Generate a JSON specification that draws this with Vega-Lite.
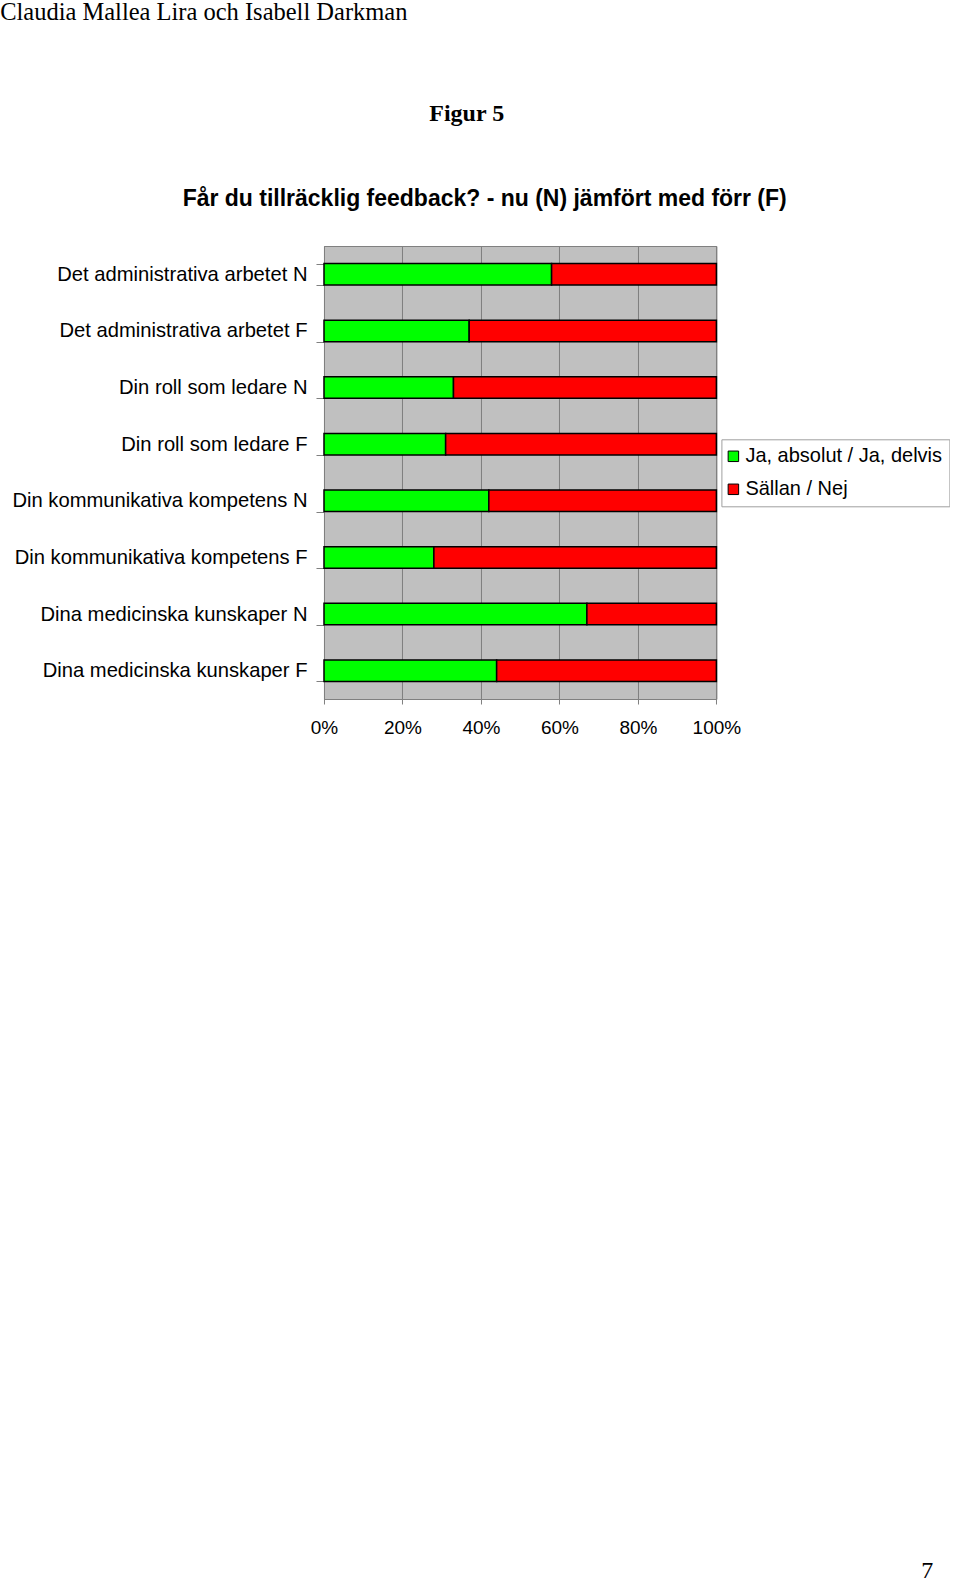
{
  "$schema": "https://vega.github.io/schema/vega-lite/v6.json",
  "background": "white",
  "padding": {"left": 0, "top": 0, "right": 0, "bottom": 0},
  "title": {
    "text": "Claudia Mallea Lira och Isabell Darkman",
    "anchor": "start",
    "frame": "bounds",
    "font": "Liberation Serif",
    "fontSize": 24.5,
    "fontWeight": "normal",
    "color": "black",
    "baseline": "top",
    "offset": 76
  },
  "spacing": 0,
  "config": {
    "font": "Liberation Sans",
    "axis": {"labelColor": "black"},
    "legend": {"labelColor": "black"}
  },
  "vconcat": [
    {
      "title": {
        "text": "Figur 5",
        "anchor": "middle",
        "frame": "bounds",
        "dx": 0,
        "font": "Liberation Serif",
        "fontSize": 24,
        "fontWeight": "bold",
        "color": "black",
        "baseline": "top",
        "offset": 62
      },
      "vconcat": [
        {
          "title": {
            "text": "Får du tillräcklig feedback? - nu (N) jämfört med förr (F)",
            "anchor": "middle",
            "frame": "bounds",
            "dx": 18,
            "font": "Liberation Sans",
            "fontSize": 23,
            "fontWeight": "bold",
            "color": "black",
            "baseline": "top",
            "offset": 25
          },
          "width": 392.4,
          "height": 453,
          "view": {"fill": "#C0C0C0", "stroke": "#808080", "strokeWidth": 1},
          "data": {
            "values": [
              {"kategori": "Det administrativa arbetet N", "svar": "Ja, absolut / Ja, delvis", "andel": 58},
              {"kategori": "Det administrativa arbetet N", "svar": "Sällan / Nej", "andel": 42},
              {"kategori": "Det administrativa arbetet F", "svar": "Ja, absolut / Ja, delvis", "andel": 37},
              {"kategori": "Det administrativa arbetet F", "svar": "Sällan / Nej", "andel": 63},
              {"kategori": "Din roll som ledare N", "svar": "Ja, absolut / Ja, delvis", "andel": 33},
              {"kategori": "Din roll som ledare N", "svar": "Sällan / Nej", "andel": 67},
              {"kategori": "Din roll som ledare F", "svar": "Ja, absolut / Ja, delvis", "andel": 31},
              {"kategori": "Din roll som ledare F", "svar": "Sällan / Nej", "andel": 69},
              {"kategori": "Din kommunikativa kompetens N", "svar": "Ja, absolut / Ja, delvis", "andel": 42},
              {"kategori": "Din kommunikativa kompetens N", "svar": "Sällan / Nej", "andel": 58},
              {"kategori": "Din kommunikativa kompetens F", "svar": "Ja, absolut / Ja, delvis", "andel": 28},
              {"kategori": "Din kommunikativa kompetens F", "svar": "Sällan / Nej", "andel": 72},
              {"kategori": "Dina medicinska kunskaper N", "svar": "Ja, absolut / Ja, delvis", "andel": 67},
              {"kategori": "Dina medicinska kunskaper N", "svar": "Sällan / Nej", "andel": 33},
              {"kategori": "Dina medicinska kunskaper F", "svar": "Ja, absolut / Ja, delvis", "andel": 44},
              {"kategori": "Dina medicinska kunskaper F", "svar": "Sällan / Nej", "andel": 56}
            ]
          },
          "mark": {"type": "bar", "stroke": "black", "strokeWidth": 1.5},
          "encoding": {
            "y": {
              "field": "kategori",
              "type": "nominal",
              "sort": [
                "Det administrativa arbetet N",
                "Det administrativa arbetet F",
                "Din roll som ledare N",
                "Din roll som ledare F",
                "Din kommunikativa kompetens N",
                "Din kommunikativa kompetens F",
                "Dina medicinska kunskaper N",
                "Dina medicinska kunskaper F"
              ],
              "scale": {"paddingInner": 0.62, "paddingOuter": 0.31},
              "axis": {
                "title": null,
                "labelFont": "Liberation Sans",
                "labelFontSize": 20.2,
                "labelLimit": 0,
                "labelPadding": 9,
                "minExtent": 323.3,
                "tickBand": "extent",
                "tickSize": 8,
                "tickColor": "#808080",
                "domainColor": "#808080",
                "grid": false
              }
            },
            "x": {
              "field": "andel",
              "type": "quantitative",
              "stack": "normalize",
              "scale": {"domain": [0, 1], "nice": false},
              "axis": {
                "title": "7",
                "titleX": 608.7,
                "titleY": 879,
                "titleAlign": "right",
                "titleBaseline": "alphabetic",
                "titleFont": "Liberation Serif",
                "titleFontSize": 24,
                "titleFontWeight": "normal",
                "titleColor": "black",
                "values": [0, 0.2, 0.4, 0.6, 0.8, 1],
                "format": ".0%",
                "labelFont": "Liberation Sans",
                "labelFontSize": 19,
                "labelFlush": false,
                "labelPadding": 14,
                "tickSize": 5,
                "tickColor": "#808080",
                "domainColor": "#808080",
                "grid": true,
                "gridColor": "#808080",
                "gridOpacity": 1
              }
            },
            "color": {
              "field": "svar",
              "type": "nominal",
              "scale": {
                "domain": ["Ja, absolut / Ja, delvis", "Sällan / Nej"],
                "range": ["#00FF00", "#FF0000"]
              },
              "legend": {
                "title": null,
                "orient": "none",
                "legendX": 397.4,
                "legendY": 193.3,
                "strokeColor": "#A0A0A0",
                "fillColor": "white",
                "padding": 7,
                "labelFont": "Liberation Sans",
                "labelFontSize": 20,
                "labelLimit": 0,
                "labelOffset": 2,
                "symbolOffset": -5,
                "symbolType": "square",
                "symbolSize": 110,
                "symbolStrokeColor": "black",
                "symbolStrokeWidth": 1,
                "symbolOpacity": 1,
                "rowPadding": 13
              }
            }
          }
        }
      ]
    }
  ]
}
